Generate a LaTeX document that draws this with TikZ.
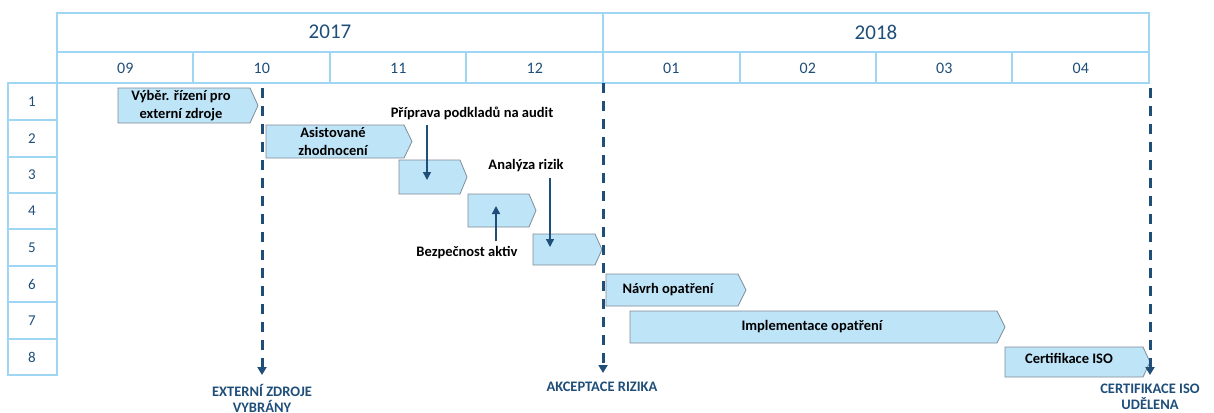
\documentclass[tikz,border=0pt]{standalone}
\usepackage{fontspec}
\setmainfont{Carlito}
\usetikzlibrary{arrows.meta}
\definecolor{gridblue}{RGB}{158,214,244}
\definecolor{darkblue}{RGB}{31,78,121}
\definecolor{taskfill}{RGB}{190,228,248}
\definecolor{taskedge}{RGB}{128,140,150}

\begin{document}
\begin{tikzpicture}[x=1pt,y=-1pt,
        gridline/.style={draw=gridblue, line width=1.3pt},
        yearlbl/.style={text=darkblue, font=\fontsize{21}{24}\selectfont},
        monthlbl/.style={text=darkblue, font=\fontsize{16}{19}\selectfont},
        rowlbl/.style={text=darkblue, font=\fontsize{15}{18}\selectfont},
        taskbox/.style={fill=taskfill, draw=taskedge, line width=0.8pt},
        tasklbl/.style={font=\bfseries\fontsize{14.5}{18}\selectfont, align=center, inner sep=0pt},
        milestone/.style={draw=darkblue, line width=3pt, dash pattern=on 10pt off 8pt,
            -{Triangle[width=9pt,length=8pt]}},
        mslbl/.style={text=darkblue, font=\bfseries\fontsize{14.5}{16}\selectfont, align=center, inner sep=0pt},
        pointer/.style={draw=darkblue, line width=1.4pt, -{Triangle[width=8pt,length=8pt]}}]
    \useasboundingbox (0,0) rectangle (1214,412);

    % header
    \draw[gridline] (57,13) rectangle (1149,83);
    \draw[gridline] (57,52) -- (1149,52);
    \draw[gridline] (603,13) -- (603,52);
    \foreach \x in {193,330,466,603,740,876,1012}
        \draw[gridline] (\x,52) -- (\x,83);
    \node[yearlbl] (y17) at (330,32) {2017};
    \node[yearlbl] (y18) at (876,32) {2018};
    \foreach \m [count=\i] in {09,10,11,12,01,02,03,04}
        \node[monthlbl] (m\i) at ({57+136.5*(\i-0.5)},68) {\m};

    % row numbers
    \draw[gridline] (8,83) rectangle (57,375);
    \foreach \y in {120,157,193,229,266,302,339}
        \draw[gridline] (8,\y) -- (57,\y);
    \foreach \r [count=\i] in {102,138.5,175,211,247.5,284,320.5,357}
        \node[rowlbl] (r\i) at (32,\r) {\i};

    % tasks
    \draw[taskbox] (118,88) -- (250,88) -- (258,105.5) -- (250,123) -- (118,123) -- cycle;
    \node[tasklbl] (t1) at (181,106) {Výběr. řízení pro\\externí zdroje};
    \draw[taskbox] (266,125) -- (404,125) -- (412,141.5) -- (404,158) -- (266,158) -- cycle;
    \node[tasklbl] (t2) at (333,141.5) {Asistované\\zhodnocení};
    \draw[taskbox] (399,160) -- (460,160) -- (467,177) -- (460,194) -- (399,194) -- cycle;
    \draw[taskbox] (468,194) -- (529,194) -- (536,210.5) -- (529,227) -- (468,227) -- cycle;
    \draw[taskbox] (533,234) -- (595,234) -- (602,249.5) -- (595,265) -- (533,265) -- cycle;
    \draw[taskbox] (606,274) -- (738,274) -- (746,290) -- (738,306) -- (606,306) -- cycle;
    \node[tasklbl] (t6) at (668,290) {Návrh opatření};
    \draw[taskbox] (630,311) -- (997,311) -- (1005,327) -- (997,343) -- (630,343) -- cycle;
    \node[tasklbl] (t7) at (812,327) {Implementace opatření};
    \draw[taskbox] (1005,347) -- (1143,347) -- (1150,362) -- (1143,377) -- (1005,377) -- cycle;
    \node[tasklbl] (t8) at (1069,358) {Certifikace ISO};

    % notes
    \node[tasklbl] (prep) at (472,113) {Příprava podkladů na audit};
    \node[tasklbl] (risk) at (526,166) {Analýza rizik};
    \node[tasklbl] (asset) at (467,253) {Bezpečnost aktiv};
    \coordinate (prepS) at (427,125);
    \coordinate (prepE) at (427,180);
    \coordinate (riskS) at (550,178);
    \coordinate (riskE) at (550,247);
    \coordinate (assetS) at (496,241);
    \coordinate (assetE) at (496,206);
    \draw[pointer] (prepS) -- (prepE);
    \draw[pointer] (riskS) -- (riskE);
    \draw[pointer] (assetS) -- (assetE);

    % milestones
    \coordinate (ms1a) at (262,88);
    \coordinate (ms1b) at (262,375);
    \coordinate (ms2a) at (603,83);
    \coordinate (ms2b) at (603,373);
    \coordinate (ms3a) at (1150,88);
    \coordinate (ms3b) at (1150,375);
    \draw[milestone] (ms1a) -- (ms1b);
    \draw[milestone] (ms2a) -- (ms2b);
    \draw[milestone] (ms3a) -- (ms3b);
    \node[mslbl, anchor=north] (ms1) at (262,384) {EXTERNÍ ZDROJE\\VYBRÁNY};
    \node[mslbl, anchor=north] (ms2) at (602,382) {AKCEPTACE RIZIKA};
    \node[mslbl, anchor=north] (ms3) at (1150,384) {CERTIFIKACE ISO\\UDĚLENA};
\end{tikzpicture}
\end{document}
